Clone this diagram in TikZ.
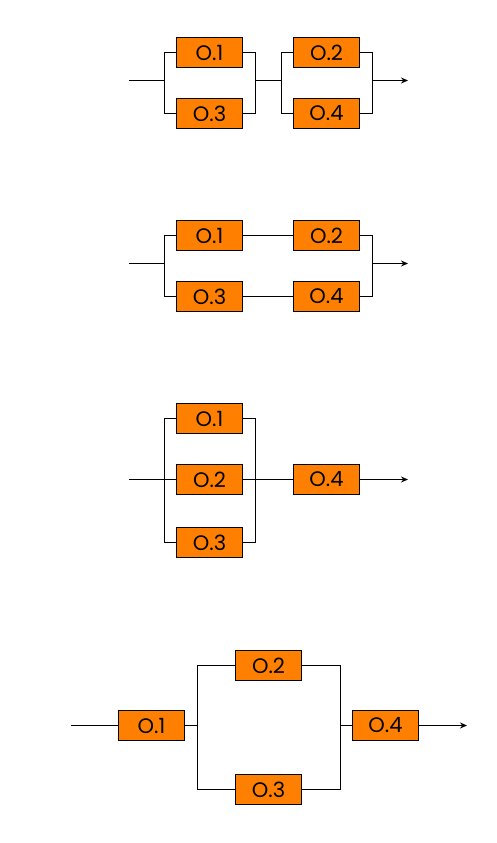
\documentclass[tikz,border=0pt]{standalone}
\usepackage{fontspec}
\setmainfont{Poppins}
\usetikzlibrary{arrows.meta,positioning}
\definecolor{blkfill}{HTML}{FF8000}

\begin{document}
\begin{tikzpicture}[>={Stealth[length=7pt,width=6pt]},x=1pt,y=-1pt,line width=1pt,
  blk/.style={draw,fill=blkfill,minimum width=66pt,minimum height=30pt,inner sep=0pt,
    font=\fontsize{21}{21}\selectfont}]
  \useasboundingbox (0,0) rectangle (496,843);
  % series of two parallel pairs
  \node[blk] (a1) at (209.5,52.5) {O.1};
  \node[blk] (a3) at (209.5,113.5) {O.3};
  \node[blk] (a2) at (326.5,52.5) {O.2};
  \node[blk] (a4) at (326.5,113.5) {O.4};
  \coordinate (ain) at (129,80.5);
  \coordinate (aj1) at (164.5,80.5);
  \coordinate (aj2) at (255.5,80.5);
  \coordinate (aj3) at (281.5,80.5);
  \coordinate (aj4) at (372.5,80.5);
  \coordinate (aout) at (408,80.5);
  \draw (ain) -- (aj1);
  \draw (a1.west) -| (aj1) |- (a3.west);
  \draw (a1.east) -| (aj2) |- (a3.east);
  \draw (aj2) -- (aj3);
  \draw (a2.west) -| (aj3) |- (a4.west);
  \draw (a2.east) -| (aj4) |- (a4.east);
  \draw[->] (aj4) -- (aout);

  % parallel pair of series
  \node[blk] (b1) at (209.5,235.5) {O.1};
  \node[blk] (b2) at (326.5,235.5) {O.2};
  \node[blk] (b3) at (209.5,296.5) {O.3};
  \node[blk] (b4) at (326.5,296.5) {O.4};
  \coordinate (bin) at (129,263.5);
  \coordinate (bj1) at (164.5,263.5);
  \coordinate (bj2) at (372.5,263.5);
  \coordinate (bout) at (408,263.5);
  \draw (bin) -- (bj1);
  \draw (b1.west) -| (bj1) |- (b3.west);
  \draw (b1) -- (b2);
  \draw (b3) -- (b4);
  \draw (b2.east) -| (bj2) |- (b4.east);
  \draw[->] (bj2) -- (bout);

  % three in parallel, then one
  \node[blk] (c1) at (209.5,418.5) {O.1};
  \node[blk] (c2) at (209.5,479.5) {O.2};
  \node[blk] (c3) at (209.5,542.5) {O.3};
  \node[blk] (c4) at (326.5,479.5) {O.4};
  \coordinate (cin) at (129,479.5);
  \coordinate (cj1) at (164.5,479.5);
  \coordinate (cj2) at (255.5,479.5);
  \coordinate (cout) at (408,479.5);
  \draw (cin) -- (c2.west);
  \draw (c1.west) -| (cj1) |- (c3.west);
  \draw (c1.east) -| (cj2) |- (c3.east);
  \draw (c2) -- (c4);
  \draw[->] (c4) -- (cout);

  % one, parallel pair, one
  \node[blk] (d1) at (151.5,725.5) {O.1};
  \node[blk] (d2) at (268.5,665.5) {O.2};
  \node[blk] (d3) at (268.5,789.5) {O.3};
  \node[blk] (d4) at (385.5,725.5) {O.4};
  \coordinate (din) at (71,725.5);
  \coordinate (dj1) at (197.5,725.5);
  \coordinate (dj2) at (340.5,725.5);
  \coordinate (dout) at (467,725.5);
  \draw (din) -- (d1);
  \draw (d1) -- (dj1);
  \draw (d2.west) -| (dj1) |- (d3.west);
  \draw (d2.east) -| (dj2) |- (d3.east);
  \draw (dj2) -- (d4);
  \draw[->] (d4) -- (dout);
\end{tikzpicture}
\end{document}
